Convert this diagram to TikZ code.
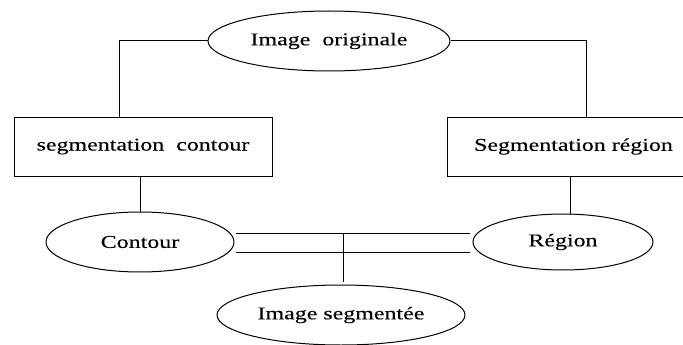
\documentclass[tikz,border=0pt]{standalone}
\usepackage{fontspec}
\setmainfont{Liberation Serif}[FakeStretch=1.33, FakeBold=0.2]
\usetikzlibrary{shapes.geometric}
\begin{document}
\begin{tikzpicture}[x=1pt,y=-1pt,
  every node/.style={font=\fontsize{18pt}{20pt}\selectfont, text=black, inner sep=0pt},
  ell/.style={draw, ellipse, line width=1pt},
  boxnode/.style={draw, rectangle, line width=1pt},
  link/.style={line width=1pt}]
\useasboundingbox (0,0) rectangle (683,345);
\node[ell, minimum width=242pt, minimum height=60pt] (orig) at (329,41) {Image\ \ originale};
\node[boxnode, minimum width=258pt, minimum height=59pt] (segc) at (143,146.5) {\raisebox{3pt}{segmentation\ \ contour}};
\node[boxnode, minimum width=253pt, minimum height=59pt] (segr) at (573.5,146.5) {\raisebox{3pt}{Segmentation région}};
\node[ell, minimum width=188pt, minimum height=60pt] (contour) at (140,242) {Contour};
\node[ell, minimum width=180pt, minimum height=56pt] (region) at (563,242) {Région};
\node[ell, minimum width=248pt, minimum height=60pt] (seg) at (341,315) {Image segmentée};
\draw[link] (orig.west) -| ([xshift=-24pt]segc.north);
\draw[link] (orig.east) -| ([xshift=12.5pt]segr.north);
\draw[link] (segc.south -| contour.north) -- (contour.north);
\draw[link] ([xshift=-3.5pt]segr.south) -- ([xshift=-3.5pt,yshift=-1pt]segr.south |- region.north);
\draw[link] ([shift={(1pt,9pt)}]contour.east) -- ([shift={(-3pt,9pt)}]region.west);
\draw[link] ([shift={(1pt,-10pt)}]contour.east) -- ([shift={(-3pt,-10pt)}]region.west);
\coordinate (j) at (343,233);
\draw[link] (j) -- ([yshift=3pt]j |- seg.north);
\end{tikzpicture}
\end{document}
